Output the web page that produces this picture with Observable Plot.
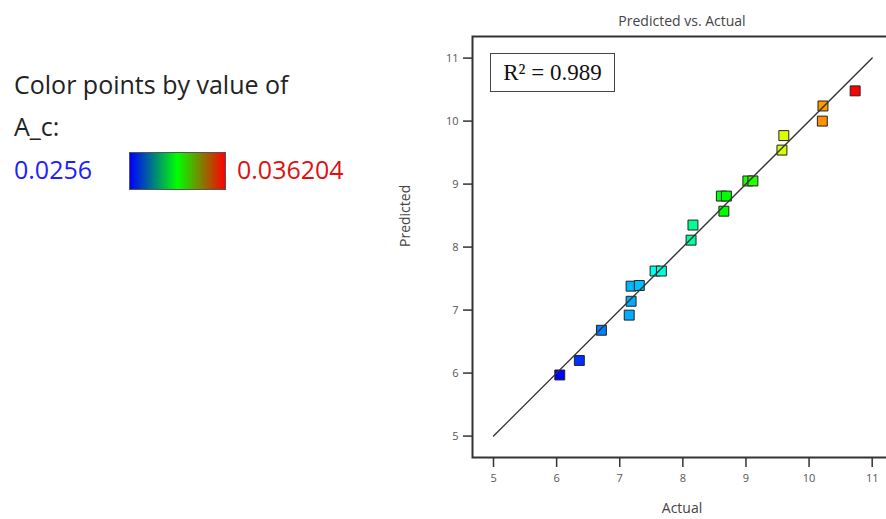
<!DOCTYPE html>
<html>
<head>
<meta charset="utf-8">
<script src="https://cdn.jsdelivr.net/npm/d3@7"></script>
<script src="https://cdn.jsdelivr.net/npm/@observablehq/plot@0.6"></script>
<style>
  html, body { margin: 0; padding: 0; background: #fff; overflow: hidden; }
  #wrap { position: relative; width: 886px; height: 519px; overflow: hidden; font-family: "Open Sans", "Noto Sans", sans-serif; }
  #chart { position: absolute; left: 0; top: 0; width: 900px; }
  #chart svg { max-width: none !important; }
  .leg { position: absolute; font-size: 25px; color: #222; white-space: nowrap; line-height: 1; }
  #grad { position: absolute; left: 129px; top: 152px; width: 95px; height: 36px; border: 1px solid #555;
          background: linear-gradient(to right, #0000ff 0%, #008080 25%, #00ff00 50%, #808000 75%, #ff0000 100%); }
  #r2 { position: absolute; left: 490px; top: 53px; width: 123px; height: 37px; border: 1px solid #444; background: #fff;
        font-family: "Liberation Serif", "DejaVu Serif", serif; font-size: 23px; color: #111; line-height: 37px; text-align: center; }
</style>
</head>
<body>
<div id="wrap">
  <div id="chart"></div>
  <div class="leg" style="left:14px; top:72px;">Color points by value of</div>
  <div class="leg" style="left:14px; top:114px;">A_c:</div>
  <div class="leg" style="left:14px; top:157px; color:#2020ff;">0.0256</div>
  <div id="grad"></div>
  <div class="leg" style="left:237px; top:157px; color:#e01010;">0.036204</div>
  <div id="r2">R² = 0.989</div>
</div>
<script>
// Data
const actual    = [6.05, 6.36, 6.71, 7.15, 7.18, 7.18, 7.31, 7.56, 7.66, 8.13, 8.16, 8.61, 8.69, 8.65, 9.03, 9.11, 9.57, 9.60, 10.22, 10.21, 10.73];
const predicted = [5.97, 6.20, 6.68, 6.92, 7.14, 7.38, 7.39, 7.62, 7.62, 8.11, 8.35, 8.81, 8.81, 8.57, 9.05, 9.05, 9.54, 9.77, 10.24, 10.00, 10.48];
const aC        = [0.0256, 0.0261, 0.0269, 0.0274, 0.0274, 0.0275, 0.0276, 0.0285, 0.0286, 0.0293, 0.0294, 0.0308, 0.0309, 0.0309, 0.0312, 0.0313, 0.0331, 0.0332, 0.0346, 0.0347, 0.036204];
const xTicks = [5, 6, 7, 8, 9, 10, 11];
const yTicks = [5, 6, 7, 8, 9, 10, 11];
const fitLineX = [5, 11];
const fitLineY = [5, 11];
const colorStops = [0.0256, 0.030902, 0.036204];

const points = actual.map((a, i) => ({actual: a, predicted: predicted[i], ac: aC[i]}));
const fit = fitLineX.map((x, i) => ({x, y: fitLineY[i]}));

const font = '"Open Sans", "Noto Sans", sans-serif';

const plot = Plot.plot({
  width: 900,
  height: 519,
  marginLeft: 472,
  marginRight: 9,
  marginTop: 36,
  marginBottom: 62,
  style: {fontFamily: font, background: "transparent", overflow: "visible", maxWidth: "none"},
  x: {domain: [4.667, 11.306]},
  y: {domain: [4.66, 11.343]},
  color: {type: "linear", domain: colorStops, range: ["#0000ff", "#00ff00", "#ff0000"], interpolate: d3.interpolateHsl},
  marks: [
    Plot.frame({stroke: "#333", strokeWidth: 2}),
    Plot.axisX({ticks: xTicks, tickFormat: d => String(d), tickSize: 10, tickPadding: 7, fontSize: 11, color: "#555", stroke: "#333", strokeWidth: 1.5, label: null}),
    Plot.axisY({ticks: yTicks, tickFormat: d => String(d), tickSize: 9, tickPadding: 5, fontSize: 11, color: "#555", stroke: "#333", strokeWidth: 1.5, label: null}),
    Plot.dot(points, {x: "actual", y: "predicted", fill: "ac", symbol: "square", r: 5.6, stroke: "#222", strokeWidth: 1}),
    Plot.line(fit, {x: "x", y: "y", stroke: "#333", strokeWidth: 1.4}),
    Plot.text(["Predicted vs. Actual"], {frameAnchor: "top", dy: -20, fontSize: 14, fill: "#444"}),
    Plot.text(["Actual"], {frameAnchor: "bottom", dy: 55, fontSize: 14, fill: "#444"}),
    Plot.text(["Predicted"], {frameAnchor: "left", dx: -67, rotate: -90, fontSize: 14, fill: "#444"})
  ]
});
document.getElementById("chart").appendChild(plot);
</script>
</body>
</html>
